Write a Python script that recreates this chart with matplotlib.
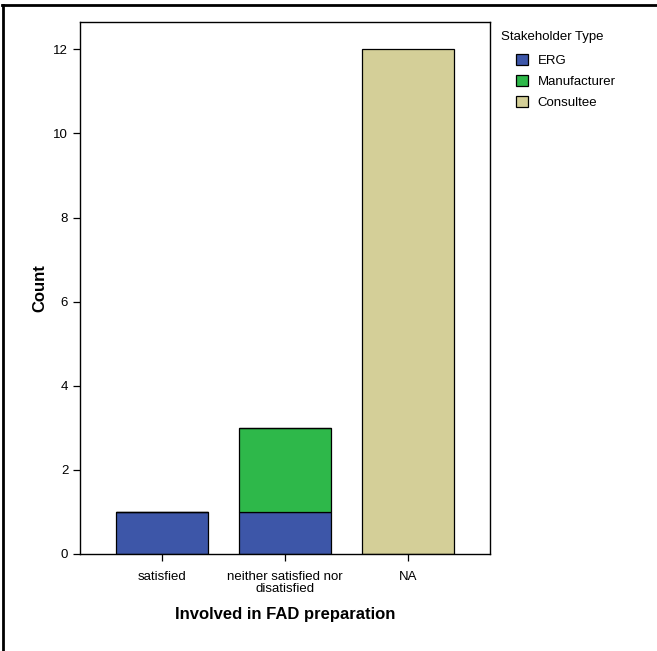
import matplotlib
matplotlib.use("Agg")
import matplotlib.pyplot as plt
from matplotlib.lines import Line2D
from matplotlib.patches import Patch

plt.rcParams['font.family'] = ['Liberation Sans', 'DejaVu Sans']

categories = ["satisfied", "neither satisfied nor\ndisatisfied", "NA"]
series_names = ["ERG", "Manufacturer", "Consultee"]
erg = [1, 1, 0]
manufacturer = [0, 2, 0]
consultee = [0, 0, 12]
colors = ["#3d56a8", "#2eb84a", "#d4cf98"]
y_ticks = [0, 2, 4, 6, 8, 10, 12]

fig = plt.figure(figsize=(6.57, 6.51), dpi=100)
ax = fig.add_axes([80 / 657, 1 - 554 / 651, 410 / 657, 532 / 651])

x = list(range(len(categories)))
bottom = [0] * len(categories)
for vals, col in zip([erg, manufacturer, consultee], colors):
    ax.bar(x, vals, width=0.75, bottom=bottom, color=col,
           edgecolor="black", linewidth=0.9, zorder=2)
    bottom = [b + v for b, v in zip(bottom, vals)]

ax.set_xlim(-0.67, 2.67)
ax.set_ylim(0, 12.65)
ax.set_xticks(x)
ax.set_xticklabels(categories, fontsize=9.5, linespacing=1.0)
ax.set_yticks(y_ticks)
ax.set_yticklabels([str(t) for t in y_ticks], fontsize=9.5)
ax.tick_params(axis="both", direction="out", length=5, width=0.9, color="black")
ax.tick_params(axis="x", pad=7)
for s in ax.spines.values():
    s.set_linewidth(1.0)

ax.set_ylabel("Count", fontsize=12, fontweight="bold", labelpad=4)
ax.set_xlabel("Involved in FAD preparation", fontsize=12, fontweight="bold", labelpad=9)

# Legend: title on its own line, entries indented below it
fig.text(501 / 657, 1 - 37 / 651, "Stakeholder Type", fontsize=9.5,
         ha="left", va="center")
handles = [Patch(facecolor=c, edgecolor="black", linewidth=0.9, label=n)
           for c, n in zip(colors, series_names)]
fig.legend(handles=handles, loc="upper left",
           bbox_to_anchor=(511 / 657, 1 - 49 / 651), frameon=False,
           fontsize=9.5, handlelength=0.9, handleheight=0.9,
           handletextpad=0.7, labelspacing=0.6, borderaxespad=0)

# Frame lines along the top and left of the figure
fig.add_artist(Line2D([2 / 657, 1], [1 - 5 / 651, 1 - 5 / 651],
                      transform=fig.transFigure, color="black", linewidth=2))
fig.add_artist(Line2D([3 / 657, 3 / 657], [0, 1 - 5 / 651],
                      transform=fig.transFigure, color="black", linewidth=2))

fig.savefig("out.png", dpi=100)
